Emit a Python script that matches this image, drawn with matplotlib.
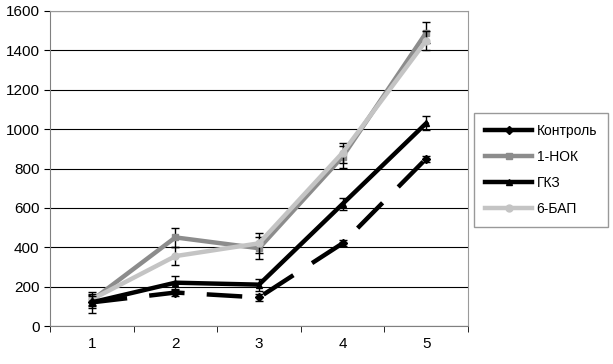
import matplotlib
matplotlib.use("Agg")
import matplotlib.pyplot as plt
from matplotlib.lines import Line2D
import numpy as np

plt.rcParams['font.family'] = ['Liberation Sans', 'DejaVu Sans']

x = [1, 2, 3, 4, 5]
names = ['Контроль', '1-НОК', 'ГКЗ', '6-БАП']
kontrol = [120, 170, 145, 420, 850]
kontrol_err = [55, 20, 20, 15, 15]
nok = [130, 450, 395, 860, 1490]
nok_err = [30, 50, 55, 55, 55]
gkz = [120, 220, 210, 620, 1030]
gkz_err = [30, 35, 30, 30, 35]
bap = [135, 355, 420, 880, 1450]
bap_err = [30, 45, 50, 50, 50]

fig = plt.figure(figsize=(6.13, 3.64), dpi=100)
ax = fig.add_axes([50/613, 38/364, 418/613, 315/364])

lw = 3.2
ax.errorbar(x, nok, yerr=nok_err, color='#8c8c8c', lw=lw, marker='s', ms=5,
            ecolor='black', elinewidth=1, capsize=3, zorder=3)
ax.errorbar(x, bap, yerr=bap_err, color='#c4c4c4', lw=lw, marker='o', ms=5,
            ecolor='black', elinewidth=1, capsize=3, zorder=4)
ax.errorbar(x, gkz, yerr=gkz_err, color='black', lw=lw, marker='^', ms=5,
            ecolor='black', elinewidth=1, capsize=3, zorder=5)
ax.errorbar(x, kontrol, yerr=kontrol_err, color='black', lw=lw, marker='D', ms=4,
            ecolor='black', elinewidth=1, capsize=3, dashes=(8, 5), zorder=6)

ax.set_xlim(0.5, 5.5)
ax.set_ylim(0, 1600)
ax.set_yticks(range(0, 1601, 200))
ax.set_xticks(x)
ax.set_xticks(np.arange(0.5, 5.6, 1), minor=True)
ax.tick_params(axis='x', which='major', length=0, labelsize=11, pad=8)
ax.tick_params(axis='x', which='minor', length=4, color='black', direction='out')
ax.tick_params(axis='y', length=4, color='black', labelsize=11, direction='out')
ax.grid(axis='y', color='black', lw=0.8)
ax.set_axisbelow(True)
for s in ['top', 'right']:
    ax.spines[s].set_color('#9a9a9a')
for s in ['left', 'bottom']:
    ax.spines[s].set_color('#808080')

handles = [
    Line2D([], [], color='black', lw=lw, marker='D', ms=4),
    Line2D([], [], color='#8c8c8c', lw=lw, marker='s', ms=5),
    Line2D([], [], color='black', lw=lw, marker='^', ms=5),
    Line2D([], [], color='#c4c4c4', lw=lw, marker='o', ms=5),
]
leg = fig.legend(handles, names,
                 loc='upper left', bbox_to_anchor=(474/613, 1 - 113/364),
                 fontsize=10, frameon=True, fancybox=False, edgecolor='#808080',
                 handlelength=3.4, handletextpad=0.3, borderpad=0.8,
                 borderaxespad=0, labelspacing=0.85)
leg.get_frame().set_linewidth(1)

fig.savefig('out.png', dpi=100)
